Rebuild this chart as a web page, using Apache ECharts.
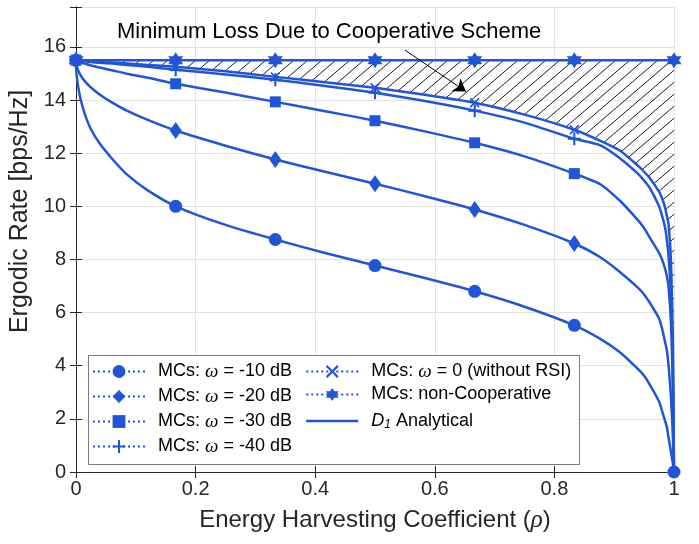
<!DOCTYPE html>
<html>
<head>
<meta charset="utf-8">
<script src="https://cdn.jsdelivr.net/npm/echarts@6/dist/echarts.min.js"></script>
<style>html,body{margin:0;padding:0;background:#fff}#c{width:699px;height:544px}</style>
</head>
<body>
<div id="c"></div>
<script>
// ---- Monte-Carlo markers ----
const MC_RHO = [0, 0.1667, 0.3333, 0.5, 0.6667, 0.8333, 1];
const mc10 = [15.5, 10.0, 8.75, 7.77, 6.8, 5.52, 0];
const mc20 = [15.5, 12.85, 11.76, 10.85, 9.88, 8.6];
const mc30 = [15.5, 14.61, 13.93, 13.22, 12.39, 11.23];
const mc40 = [15.5, 15.14, 14.76, 14.27, 13.6, 12.54];
const mc0  = [15.5, 15.25, 14.87, 14.46, 13.9, 12.88];
const mcNC = [15.5, 15.5, 15.5, 15.5, 15.5, 15.5, 15.5];

// ---- Analytical curves ----
const AN_RHO = [0, 0.001, 0.004, 0.008, 0.015, 0.025, 0.04, 0.06, 0.085, 0.12, 0.1667, 0.25, 0.3333, 0.4167, 0.5, 0.5833, 0.6667, 0.75, 0.8333, 0.876, 0.91, 0.94, 0.95, 0.96, 0.975, 0.98, 0.985, 0.988, 0.991, 0.995, 0.998, 1];
const an10 = [15.5, 14.95, 14.45, 14.0, 13.45, 12.9, 12.35, 11.8, 11.2, 10.6, 10.0, 9.3, 8.75, 8.24, 7.77, 7.3, 6.8, 6.22, 5.52, 5.02, 4.5, 3.87, 3.62, 3.27, 2.65, 2.3, 1.93, 1.7, 1.28, 0.75, 0.35, 0];
const an20 = [15.5, 15.29, 15.09, 14.92, 14.7, 14.47, 14.2, 13.91, 13.6, 13.25, 12.85, 12.28, 11.76, 11.3, 10.85, 10.38, 9.88, 9.3, 8.6, 8.09, 7.52, 6.93, 6.68, 6.35, 5.78, 5.4, 4.9, 4.58, 4.0, 2.8, 1.4, 0];
const an30 = [15.5, 15.49, 15.46, 15.42, 15.37, 15.3, 15.22, 15.12, 14.99, 14.84, 14.61, 14.28, 13.93, 13.58, 13.22, 12.82, 12.39, 11.88, 11.23, 10.84, 10.2, 9.47, 9.18, 8.8, 8.25, 8.0, 7.65, 7.38, 6.95, 5.6, 3.3, 0];
const an40 = [15.5, 15.5, 15.49, 15.48, 15.46, 15.43, 15.4, 15.37, 15.32, 15.25, 15.14, 14.96, 14.76, 14.53, 14.27, 13.96, 13.6, 13.15, 12.54, 12.3, 11.8, 11.22, 10.97, 10.67, 10.0, 9.65, 9.21, 8.75, 8.1, 6.6, 4.2, 0];
const an0  = [15.5, 15.5, 15.5, 15.49, 15.48, 15.46, 15.44, 15.41, 15.37, 15.32, 15.25, 15.08, 14.87, 14.67, 14.46, 14.2, 13.9, 13.45, 12.88, 12.47, 12.09, 11.52, 11.3, 11.05, 10.55, 10.3, 9.96, 9.65, 9.3, 7.9, 5.0, 0];
const NC_RHO = [0, 1];
const anNC = [15.5, 15.5];
const NC_LEVEL = 15.5;

// ---- annotation ----
const ANNOT_TEXT = 'Minimum Loss Due to Cooperative Scheme';
const ARROW_FROM = [0.55, 15.88];
const ARROW_TO = [0.652, 14.32];

// ---- axis ticks ----
const X_MIN = 0, X_MAX = 1, X_STEP = 0.2;
const Y_MIN = 0, Y_MAX = 17.5, Y_STEP = 2;

const BLUE = '#1f55d6';
const FONT = 'Liberation Sans';
const SMOOTH = 0.2;

function pts(xs, ys) { return ys.map((y, i) => [xs[i], y]); }

// hatch pattern
const tile = document.createElement('canvas');
tile.width = 14; tile.height = 12;
(function () {
  const g = tile.getContext('2d');
  g.strokeStyle = '#000'; g.lineWidth = 0.9;
  const w = tile.width, h = tile.height;
  [-w, 0, w].forEach(o => { g.beginPath(); g.moveTo(o, h); g.lineTo(o + w, 0); g.stroke(); });
})();

const PLUS = 'path://M4.2,0H5.8V4.2H10V5.8H5.8V10H4.2V5.8H0V4.2H4.2Z';
const CROSS = 'path://M0,1.2L1.2,0L5,3.8L8.8,0L10,1.2L6.2,5L10,8.8L8.8,10L5,6.2L1.2,10L0,8.8L3.8,5Z';
const HEXA = 'path://M5,0L6.44,2.5L9.33,2.5L7.89,5L9.33,7.5L6.44,7.5L5,10L3.56,7.5L0.67,7.5L2.11,5L0.67,2.5L3.56,2.5Z';

const N10 = 'MCs: ω = -10 dB', N20 = 'MCs: ω = -20 dB', N30 = 'MCs: ω = -30 dB', N40 = 'MCs: ω = -40 dB';
const N0 = 'MCs: ω = 0 (without RSI)', NNC = 'MCs: non-Cooperative', NAN = 'D1 Analytical';

function anLine(xs, ys) {
  return {
    name: NAN, type: 'line', data: pts(xs, ys), symbol: 'none', smooth: SMOOTH,
    lineStyle: { color: BLUE, width: 2.5, join: 'round' }, itemStyle: { color: BLUE }, z: 3, silent: true
  };
}
function mcSeries(name, ys, symbol, size) {
  return {
    name, type: 'line', data: pts(MC_RHO, ys), symbol, symbolSize: size, showSymbol: true, showAllSymbol: true,
    lineStyle: { opacity: 0, color: BLUE }, itemStyle: { color: BLUE }, clip: false, z: 5, silent: true
  };
}

const legendText = {
  fontSize: 18, fontFamily: FONT, color: '#000',
  rich: {
    p: { width: 8, fontSize: 18, lineHeight: 20 },
    a: { fontSize: 18, fontFamily: FONT, color: '#000', lineHeight: 20 },
    w: { fontSize: 19, fontFamily: 'Liberation Serif', fontStyle: 'italic', color: '#000', lineHeight: 20 },
    d: { fontSize: 18, fontFamily: FONT, fontStyle: 'italic', color: '#000', lineHeight: 20 },
    s: { fontSize: 12, fontFamily: FONT, fontStyle: 'italic', color: '#000', lineHeight: 20, verticalAlign: 'bottom', padding: [11, 0, 0, 0] }
  }
};
function legendFmt(name) {
  if (name === NAN) return '{p|}{d|D}{s|1}{a| Analytical}';
  const parts = name.split('ω');
  if (parts.length === 2) return '{p|}{a|' + parts[0] + '}{w|ω}{a|' + parts[1] + '}';
  return '{p|}{a|' + name + '}';
}
const legendBase = {
  orient: 'vertical', itemWidth: 52, itemHeight: 16, padding: 0, z: 10,
  textStyle: legendText, formatter: legendFmt, selectedMode: false,
  lineStyle: { type: [2, 3], width: 2, opacity: 1, color: BLUE }
};

const chart = echarts.init(document.getElementById('c'), null, { renderer: 'canvas' });
chart.setOption({
  animation: false,
  backgroundColor: '#fff',
  title: {
    text: ANNOT_TEXT, left: 117, top: 21, padding: 0,
    textStyle: { fontFamily: FONT, fontSize: 22, fontWeight: 'normal', color: '#000' }
  },
  grid: { left: 76, right: 25, top: 7, bottom: 72, containLabel: false, outerBoundsMode: 'none', show: false },
  xAxis: [{
    type: 'value', min: X_MIN, max: X_MAX, interval: X_STEP, position: 'bottom',
    name: '{a|Energy Harvesting Coefficient (}{i|ρ}{a|)}', nameLocation: 'middle', nameGap: 36,
    nameTextStyle: { rich: { a: { fontFamily: FONT, fontSize: 24, color: '#262626' }, i: { fontFamily: 'Liberation Serif', fontStyle: 'italic', fontSize: 25, color: '#262626' } } },
    axisLine: { show: true, lineStyle: { color: '#262626', width: 1 } },
    axisTick: { show: true, inside: true, length: 6, lineStyle: { color: '#262626' } },
    axisLabel: { show: true, fontFamily: FONT, fontSize: 20, color: '#262626', margin: 7 },
    splitLine: { show: true, lineStyle: { color: '#e3e3e3', width: 1 } }
  }, {
    type: 'value', min: X_MIN, max: X_MAX, interval: X_STEP, position: 'top',
    axisLine: { show: true, lineStyle: { color: '#262626', width: 1 } },
    axisTick: { show: true, inside: true, length: 6, lineStyle: { color: '#262626' } },
    axisLabel: { show: false }, splitLine: { show: false }
  }],
  yAxis: [{
    type: 'value', min: Y_MIN, max: Y_MAX, interval: Y_STEP, position: 'left',
    name: 'Ergodic Rate [bps/Hz]', nameLocation: 'middle', nameGap: 36,
    nameTextStyle: { fontFamily: FONT, fontSize: 25, color: '#262626', padding: [0, 0, 0, 56] },
    axisLine: { show: true, lineStyle: { color: '#262626', width: 1 } },
    axisTick: { show: true, inside: true, length: 6, lineStyle: { color: '#262626' } },
    axisLabel: { show: true, fontFamily: FONT, fontSize: 20, color: '#262626', margin: 10,
      formatter: v => (v > 16.5 ? '' : String(v)) },
    splitLine: { show: true, lineStyle: { color: '#e3e3e3', width: 1 } }
  }, {
    type: 'value', min: Y_MIN, max: Y_MAX, interval: Y_STEP, position: 'right',
    axisLine: { show: true, lineStyle: { color: '#262626', width: 1 } },
    axisTick: { show: true, inside: true, length: 6, lineStyle: { color: '#262626' } },
    axisLabel: { show: false }, splitLine: { show: false }
  }],
  legend: [
    Object.assign({}, legendBase, { left: 92, top: 362, itemGap: 6, data: [N10, N20, N30, N40] }),
    Object.assign({}, legendBase, { left: 305, top: 362, itemGap: 4.5,
      data: [N0, NNC, { name: NAN, itemStyle: { opacity: 0 }, lineStyle: { type: 'solid', width: 2.5, color: BLUE, opacity: 1 } }] })
  ],
  graphic: [{
    type: 'rect', left: 88, top: 355, z: 8,
    shape: { width: 491, height: 109 },
    style: { fill: '#fff', stroke: '#7a7a7a', lineWidth: 1 }
  }],
  series: [
    // hatched region between non-cooperative level and the ω = 0 curve
    {
      name: 'hatch', type: 'custom', data: pts(AN_RHO, an0), encode: { x: 0, y: 1 }, z: 1, silent: true,
      renderItem: function (params, api) {
        if (params.dataIndex !== 0) return null;
        const p = [];
        for (let i = 0; i < AN_RHO.length; i++) p.push(api.coord([AN_RHO[i], an0[i]]));
        for (let i = AN_RHO.length - 1; i >= 0; i--) p.push(api.coord([AN_RHO[i], NC_LEVEL]));
        return { type: 'polygon', shape: { points: p }, style: { fill: { image: tile, repeat: 'repeat' }, stroke: null } };
      }
    },
    anLine(AN_RHO, an10), anLine(AN_RHO, an20), anLine(AN_RHO, an30), anLine(AN_RHO, an40), anLine(AN_RHO, an0),
    Object.assign(anLine(NC_RHO, anNC), {
      smooth: false,
      markLine: {
        silent: true, symbol: ['none', 'arrow'], symbolSize: 12, label: { show: false },
        lineStyle: { color: '#000', width: 1, type: 'solid' },
        data: [[{ coord: ARROW_FROM }, { coord: ARROW_TO }]]
      }
    }),
    mcSeries(N10, mc10, 'circle', 13),
    mcSeries(N20, mc20, 'diamond', [12, 17]),
    mcSeries(N30, mc30, 'rect', 11),
    mcSeries(N40, mc40, PLUS, 13),
    mcSeries(N0, mc0, CROSS, 10),
    mcSeries(NNC, mcNC, HEXA, [15, 16])
  ]
});
</script>
</body>
</html>
